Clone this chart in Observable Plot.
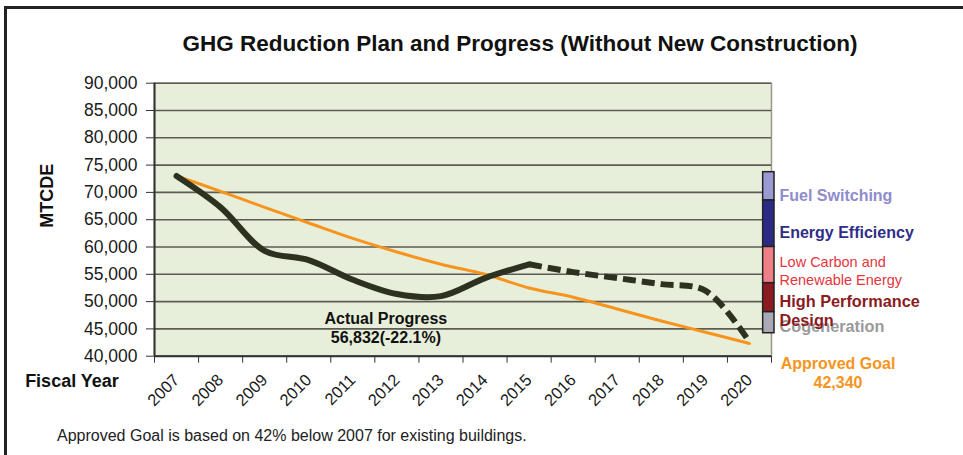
<!DOCTYPE html>
<html><head><meta charset="utf-8">
<script src="https://cdn.jsdelivr.net/npm/d3@7"></script>
<script src="https://cdn.jsdelivr.net/npm/@observablehq/plot@0.6"></script>
<style>
body{margin:0;background:#fff;font-family:"Liberation Sans",Arial,sans-serif;}
#wrap{position:relative;width:963px;height:455px;overflow:hidden;background:#fff;}
#title{height:62px;box-sizing:border-box;padding-top:31px;padding-left:77px;text-align:center;font-weight:bold;font-size:22.5px;line-height:26px;color:#111;white-space:nowrap;}
#chart svg{display:block;}
#note{height:30px;box-sizing:border-box;padding-top:1px;padding-left:57px;font-size:16px;line-height:20px;color:#222;white-space:nowrap;}
.bl{position:absolute;left:4px;top:6px;width:3px;height:449px;background:#222;}
.bt{position:absolute;left:4px;top:6px;width:959px;height:3px;background:#222;}
</style></head><body>
<div id="wrap"><div class="bl"></div><div class="bt"></div>
<div id="title">GHG Reduction Plan and Progress (Without New Construction)</div>
<div id="chart"></div>
<div id="note">Approved Goal is based on 42% below 2007 for existing buildings.</div>
</div>
<script>
// ---- data ----
const years = [2007,2008,2009,2010,2011,2012,2013,2014,2015,2016,2017,2018,2019,2020];
const goalValues = [73000,70200,67250,64400,61570,59080,56850,55000,52500,50800,48650,46450,44400,42340];
const actualYears = [2007,2008,2009,2010,2011,2012,2013,2014,2015];
const actualValues = [73000,67260,59300,57600,54000,51400,51000,54300,56832];
const projectedYears = [2015,2016,2017,2018,2019,2020];
const projectedValues = [56832,55400,54300,53200,52000,42600];
const yTicks = [40000,45000,50000,55000,60000,65000,70000,75000,80000,85000,90000];
const wedges = ["Fuel Switching","Energy Efficiency","Low Carbon and\nRenewable Energy","High Performance\nDesign","Cogeneration"];
const wedgeTop = [73700,68520,60000,53370,48060];
const wedgeBottom = [68520,60000,53370,48060,44210];
const baseline = 73000;
const progressValue = 56832;

// ---- styles ----
const wedgeColors = ["#9b99d2","#2b2b86","#ef7f86","#8b1b20","#a9a9b6"];
const wedgeLabelStyle = [
  {fill:"#8e8ccb", fontWeight:"bold", fontSize:16, dy:8.5, lineHeight:1.2},
  {fill:"#2e2e88", fontWeight:"bold", fontSize:16, dy:8.5, lineHeight:1.2},
  {fill:"#e5353d", fontWeight:"normal", fontSize:14.5, dy:5.3, lineHeight:1.26},
  {fill:"#8a1c1f", fontWeight:"bold", fontSize:16.3, dy:13, lineHeight:1.18},
  {fill:"#9a9a9a", fontWeight:"bold", fontSize:16.3, dy:2.6, lineHeight:1.2}
];

const fmt = d3.format(",");
const pct = v => d3.format(".1%")(v).replace("\u2212", "-");
const x0 = years[0] - 0.5, x1 = years[years.length - 1] + 0.5;
const boundaries = d3.range(x0, x1 + 0.01, 1);
const lastYear = years[years.length - 1];
const goal = years.map((year, i) => ({year, value: goalValues[i]}));
const actual = actualYears.map((year, i) => ({year, value: actualValues[i]}));
const projected = projectedYears.map((year, i) => ({year, value: projectedValues[i]}));
const wedgeData = wedges.map((name, i) => ({name, top: wedgeTop[i], bottom: wedgeBottom[i], mid: (wedgeTop[i] + wedgeBottom[i]) / 2}));
const annotation = {year: 2011.75, value: 45300,
  text: `Actual Progress\n${fmt(progressValue)}(${pct(progressValue / baseline - 1)})`};

const labelMarks = [4,3,2,1,0].map(i => Plot.text([wedgeData[i]], {
  y: "mid", text: "name", frameAnchor: "right", dx: 8, dy: wedgeLabelStyle[i].dy,
  textAnchor: "start", fill: wedgeLabelStyle[i].fill, fontWeight: wedgeLabelStyle[i].fontWeight,
  fontSize: wedgeLabelStyle[i].fontSize, lineHeight: wedgeLabelStyle[i].lineHeight
}));

const chart = Plot.plot({
  width: 963, height: 363,
  marginTop: 20.7, marginBottom: 69.3, marginLeft: 154, marginRight: 192,
  x: {domain: [x0, x1], label: null},
  y: {domain: [yTicks[0], yTicks[yTicks.length - 1]], label: null},
  color: {domain: wedges, range: wedgeColors},
  style: {fontFamily: "Liberation Sans, Arial, sans-serif", color: "#1a1a1a", background: "transparent", overflow: "visible"},
  marks: [
    Plot.frame({fill: "#e7eed9", stroke: "#9a978c", strokeWidth: 1.5}),
    Plot.ruleY(yTicks, {stroke: "#5e5b53", strokeWidth: 1.6}),
    Plot.ruleX([x0], {stroke: "#333", strokeWidth: 2}),
    Plot.ruleY([yTicks[0]], {stroke: "#333", strokeWidth: 2}),
    Plot.axisY({ticks: yTicks, tickFormat: fmt, tickSize: 8, tickPadding: 9, fontSize: 17.5, stroke: "#333"}),
    Plot.axisX({ticks: boundaries, tickFormat: () => "", tickSize: 7, stroke: "#333"}),
    Plot.axisX({ticks: years, tickFormat: d => String(d), tickSize: 0, tickPadding: 21, tickRotate: -45, fontSize: 16.5}),
    Plot.line(goal, {x: "year", y: "value", stroke: "#f7941d", strokeWidth: 3, curve: "catmull-rom"}),
    Plot.line(actual, {x: "year", y: "value", stroke: "#2c3120", strokeWidth: 6, curve: "catmull-rom", strokeLinecap: "round"}),
    Plot.line(projected, {x: "year", y: "value", stroke: "#2c3120", strokeWidth: 6, curve: "catmull-rom", strokeDasharray: "13,6", strokeLinecap: "butt"}),
    Plot.rectY(wedgeData, {x1: () => lastYear, x2: () => lastYear + 0.5, y1: "bottom", y2: "top", fill: "name",
      stroke: "#222", strokeWidth: 1.5, insetLeft: 13.7, insetRight: -3}),
    ...labelMarks,
    Plot.text([goal[goal.length - 1]], {y: "value", text: d => `Approved Goal\n${fmt(d.value)}`, frameAnchor: "right",
      dx: 66.5, dy: 29.3, textAnchor: "middle", fill: "#f7941d", fontWeight: "bold", fontSize: 16, lineHeight: 1.19}),
    Plot.text([annotation], {x: "year", y: "value", text: "text", fontWeight: "bold", fontSize: 16, lineHeight: 1.17, fill: "#111"}),
    Plot.text(["MTCDE"], {text: d => d, frameAnchor: "left", dx: -107, dy: 8, rotate: -90, fontWeight: "bold", fontSize: 18, fill: "#111"}),
    Plot.text(["Fiscal Year"], {text: d => d, frameAnchor: "bottom-left", dx: -82.5, dy: 31, fontWeight: "bold", fontSize: 18, fill: "#111", textAnchor: "middle"})
  ]
});
document.getElementById("chart").appendChild(chart);
</script>
</body></html>
